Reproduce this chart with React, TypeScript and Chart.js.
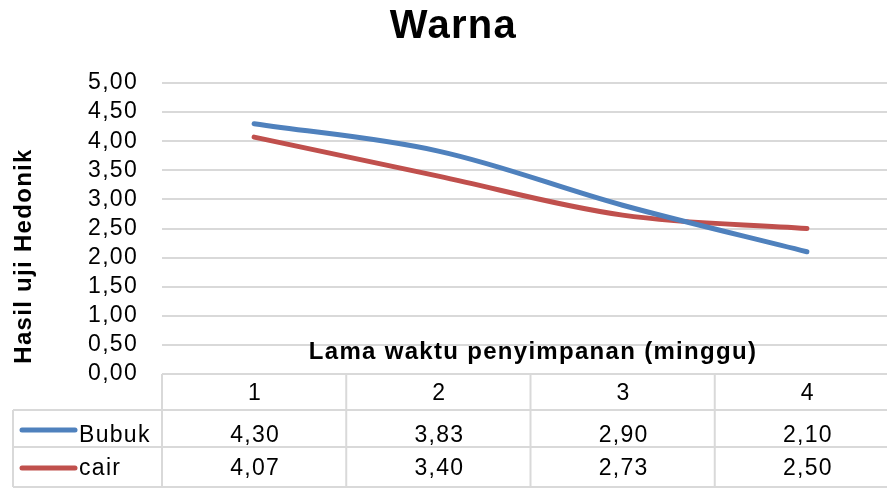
import React, { useEffect, useRef } from "react";
import { Chart, registerables } from "chart.js";

Chart.register(...registerables);

const categories = ["1", "2", "3", "4"];
const seriesNames = ["Bubuk", "cair"];
const bubuk = [4.3, 3.83, 2.9, 2.1];
const cair = [4.07, 3.4, 2.73, 2.5];
const seriesColors = ["#4F81BD", "#C0504D"];
const titleText = "Warna";
const yTitle = "Hasil uji Hedonik";
const xTitle = "Lama waktu penyimpanan (minggu)";

const FONT = "'Liberation Sans', Arial, sans-serif";
const SPACING = "1.3px";
const fmt = (v: number) => v.toFixed(2).replace(".", ",");

const spacingPlugin = {
  id: "spacing",
  beforeUpdate(chart: any) {
    (chart.ctx as any).letterSpacing = SPACING;
  },
  beforeDraw(chart: any) {
    (chart.ctx as any).letterSpacing = SPACING;
  },
};

const tablePlugin = {
  id: "dataTable",
  afterDraw(chart: any) {
    const ctx = chart.ctx as CanvasRenderingContext2D;
    const area = chart.chartArea;
    const xs = chart.scales.x;
    const n = categories.length;
    const colW = (area.right - area.left) / n;
    const headerTop = area.bottom;
    const row1 = 410;
    const row2 = 447;
    const bottom = 487;
    const leftX = 13;
    ctx.save();
    (ctx as any).letterSpacing = SPACING;
    ctx.strokeStyle = "#D9D9D9";
    ctx.lineWidth = 2;
    ctx.beginPath();
    ctx.moveTo(area.left, headerTop);
    ctx.lineTo(area.right, headerTop);
    [row1, row2, bottom].forEach((y) => {
      ctx.moveTo(leftX, y);
      ctx.lineTo(area.right, y);
    });
    ctx.moveTo(leftX, row1);
    ctx.lineTo(leftX, bottom);
    for (let i = 0; i <= n; i++) {
      const x = area.left + i * colW;
      ctx.moveTo(x, headerTop);
      ctx.lineTo(x, bottom);
    }
    ctx.stroke();

    ctx.fillStyle = "#000";
    ctx.font = `23px ${FONT}`;
    ctx.textAlign = "center";
    ctx.textBaseline = "alphabetic";
    const series = [bubuk, cair];
    const baselines = [442, 475];
    categories.forEach((c, i) => {
      const cx = xs.getPixelForValue(i) + 1;
      ctx.fillText(c, cx, 400);
      series.forEach((s, k) => {
        ctx.fillText(fmt(s[i]), cx, baselines[k]);
      });
    });
    const keyY = [430, 468];
    seriesNames.forEach((name, k) => {
      const cy = keyY[k];
      ctx.strokeStyle = seriesColors[k];
      ctx.lineWidth = 5;
      ctx.lineCap = "round";
      ctx.beginPath();
      ctx.moveTo(22, cy);
      ctx.lineTo(75, cy);
      ctx.stroke();
      ctx.textAlign = "left";
      ctx.fillText(name, 79, baselines[k]);
    });

    ctx.font = `bold 24px ${FONT}`;
    ctx.textAlign = "center";
    ctx.fillText(xTitle, 533, 359);

    ctx.translate(31, 256);
    ctx.rotate(-Math.PI / 2);
    ctx.textAlign = "center";
    ctx.fillText(yTitle, 0, 0);
    ctx.restore();
  },
};

export default function App() {
  const ref = useRef<HTMLCanvasElement | null>(null);
  useEffect(() => {
    document.body.style.margin = "0";
    const chart = new Chart(ref.current as HTMLCanvasElement, {
      type: "line",
      data: {
        labels: categories,
        datasets: [
          {
            label: seriesNames[0],
            data: bubuk,
            borderColor: seriesColors[0],
            backgroundColor: seriesColors[0],
            borderWidth: 5,
            pointRadius: 0,
            tension: 0.35,
            borderCapStyle: "round",
            borderJoinStyle: "round",
          },
          {
            label: seriesNames[1],
            data: cair,
            borderColor: seriesColors[1],
            backgroundColor: seriesColors[1],
            borderWidth: 5,
            pointRadius: 0,
            tension: 0.35,
            borderCapStyle: "round",
            borderJoinStyle: "round",
          },
        ],
      },
      options: {
        animation: false,
        responsive: false,
        layout: { padding: { left: 8, right: 1, top: 0, bottom: 0 } },
        plugins: {
          legend: { display: false },
          tooltip: { enabled: false },
          title: {
            display: true,
            text: titleText,
            color: "#000",
            font: { family: FONT, size: 40, weight: "bold" },
            padding: { top: 3, bottom: 32 },
          },
        },
        scales: {
          x: {
            offset: true,
            grid: { display: false },
            border: { display: false },
            ticks: { display: false },
            afterFit: (s: any) => {
              s.height = 114;
            },
          },
          y: {
            min: 0,
            max: 5,
            ticks: {
              stepSize: 0.5,
              autoSkip: false,
              color: "#000",
              padding: 24,
              font: { family: FONT, size: 23 },
              callback: (v: any) => fmt(Number(v)),
            },
            grid: { color: "#D9D9D9", lineWidth: 2, drawTicks: false },
            border: { display: false },
            title: { display: false },
            afterFit: (s: any) => {
              s.width = 154;
            },
          },
        },
      },
      plugins: [spacingPlugin, tablePlugin],
    } as any);
    return () => chart.destroy();
  }, []);
  return (
    <div
      style={{
        position: "absolute",
        left: 0,
        top: 0,
        width: 887,
        height: 488,
        overflow: "hidden",
      }}
    >
      <canvas ref={ref} width={900} height={488} />
    </div>
  );
}
